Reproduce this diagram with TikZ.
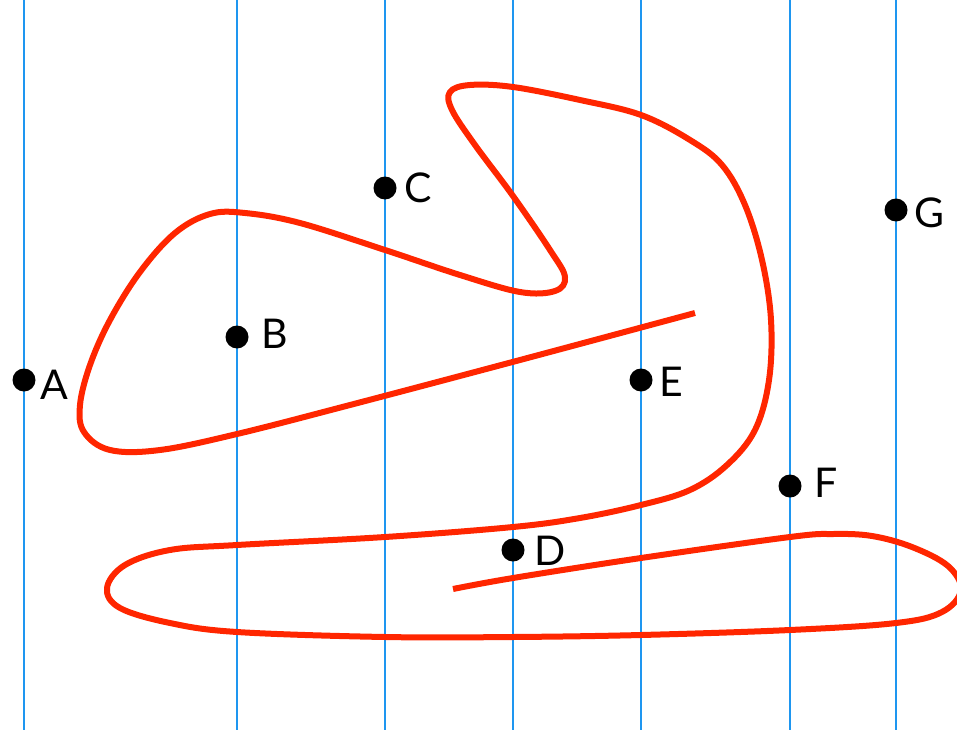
\documentclass[tikz,border=0pt]{standalone}
\usepackage{fontspec}
\setmainfont{Lato}
\definecolor{gridblue}{HTML}{1E96F0}
\definecolor{curvered}{HTML}{FF2600}

\begin{document}
\begin{tikzpicture}[
  x=1pt,
  y=-1pt,
  line join=round,
  gridline/.style={draw=gridblue,line width=2.2pt},
  curve/.style={draw=curvered,line width=6pt,line cap=butt},
  pt/.style={circle,fill=black,inner sep=0pt,minimum size=23pt},
  lbl/.style={anchor=west,inner sep=0pt,font=\fontsize{41}{41}\selectfont}
]
  % Match the artwork frame.
  \useasboundingbox (0,0) rectangle (957,730);
  \clip (0,0) rectangle (957,730);

  % Vertical lines through the sample points.
  \foreach \x in {24,237,385,513,641,790,896} {
    \draw[gridline] (\x,0) -- (\x,730);
  }

  % The open red curve, traced from its upper free end.
  \draw[curve] plot[smooth,tension=0.6] coordinates {
    (695,313) (520,360) (350,405) (237,434) (160,450) (110,450)
    (84,432) (80,405) (90,365) (110,320) (140,272) (175,233)
    (210,214) (245,213) (300,223) (385,250) (460,275) (520,292)
    (555,291) (565,277) (550,250) (513,196) (475,145) (452,110)
    (450,92) (470,85) (513,87) (580,100) (641,115) (690,140)
    (722,165) (745,205) (762,260) (771,320) (769,380) (755,430)
    (727,465) (690,490) (641,505) (580,518) (513,527) (385,537)
    (237,545) (170,550) (125,565) (107,588) (120,608) (170,623)
    (237,632) (385,637) (513,637) (641,635) (790,630) (896,623)
    (942,612) (961,590) (948,566) (912,547) (872,536) (833,534)
    (790,537) (641,558) (513,578) (453,589)
  };

  % Sample points.
  \node[pt] (A) at (24,380) {};
  \node[pt] (B) at (237,337) {};
  \node[pt] (C) at (385,188) {};
  \node[pt] (D) at (513,550) {};
  \node[pt] (E) at (641,380) {};
  \node[pt] (F) at (790,486) {};
  \node[pt] (G) at (896,210) {};

  % Point labels.
  \node[lbl] (Alabel) at (40,385) {A};
  \node[lbl] (Blabel) at (261,334) {B};
  \node[lbl] (Clabel) at (404,188) {C};
  \node[lbl] (Dlabel) at (534,551) {D};
  \node[lbl] (Elabel) at (659,382) {E};
  \node[lbl] (Flabel) at (814,483) {F};
  \node[lbl] (Glabel) at (914,213) {G};
\end{tikzpicture}
\end{document}
